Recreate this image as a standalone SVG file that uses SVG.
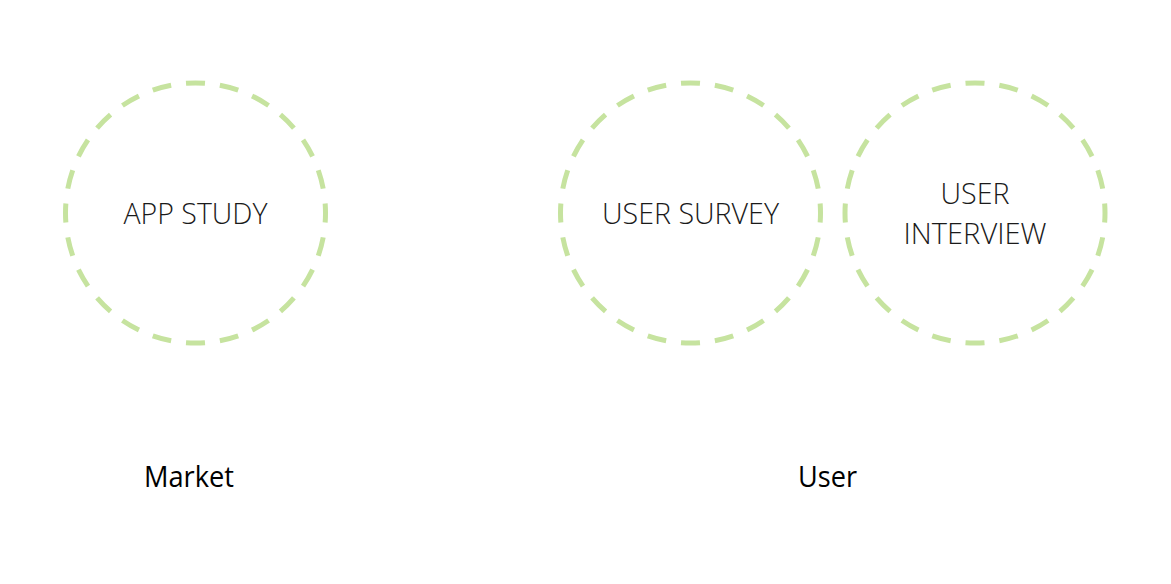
<svg xmlns="http://www.w3.org/2000/svg" width="1171" height="584" viewBox="0 0 1171 584">
<style>
.ring{fill:none;stroke:#c6e39f;stroke-width:5;stroke-dasharray:0.56 0.44;stroke-dashoffset:0.28}
.lbl{font-family:"Open Sans","Noto Sans",sans-serif;font-weight:300;font-size:29.5px;fill:#1a1a1a;text-anchor:middle}
.grp{font-family:"Open Sans","Noto Sans",sans-serif;font-weight:400;font-size:29.5px;fill:#000;text-anchor:middle}
</style>
<rect width="1171" height="584" fill="#fff"/>
<g id="app-study">
<circle class="ring" cx="195.5" cy="213" r="130" pathLength="24"/>
<text class="lbl" x="195.5" y="224" textLength="144" lengthAdjust="spacingAndGlyphs">APP STUDY</text>
</g>
<g id="user-survey">
<circle class="ring" cx="690.5" cy="213" r="130" pathLength="24"/>
<text class="lbl" x="690.5" y="224" textLength="177" lengthAdjust="spacingAndGlyphs">USER SURVEY</text>
</g>
<g id="user-interview">
<circle class="ring" cx="975" cy="213" r="130" pathLength="24"/>
<text class="lbl" x="975" y="204" textLength="69" lengthAdjust="spacingAndGlyphs">USER</text>
<text class="lbl" x="975" y="244" textLength="143" lengthAdjust="spacingAndGlyphs">INTERVIEW</text>
</g>
<g id="market">
<text class="grp" x="189" y="486.5" textLength="90" lengthAdjust="spacingAndGlyphs">Market</text>
</g>
<g id="user">
<text class="grp" x="827.5" y="486.5" textLength="59" lengthAdjust="spacingAndGlyphs">User</text>
</g>
<g id="connectors"/>
</svg>
